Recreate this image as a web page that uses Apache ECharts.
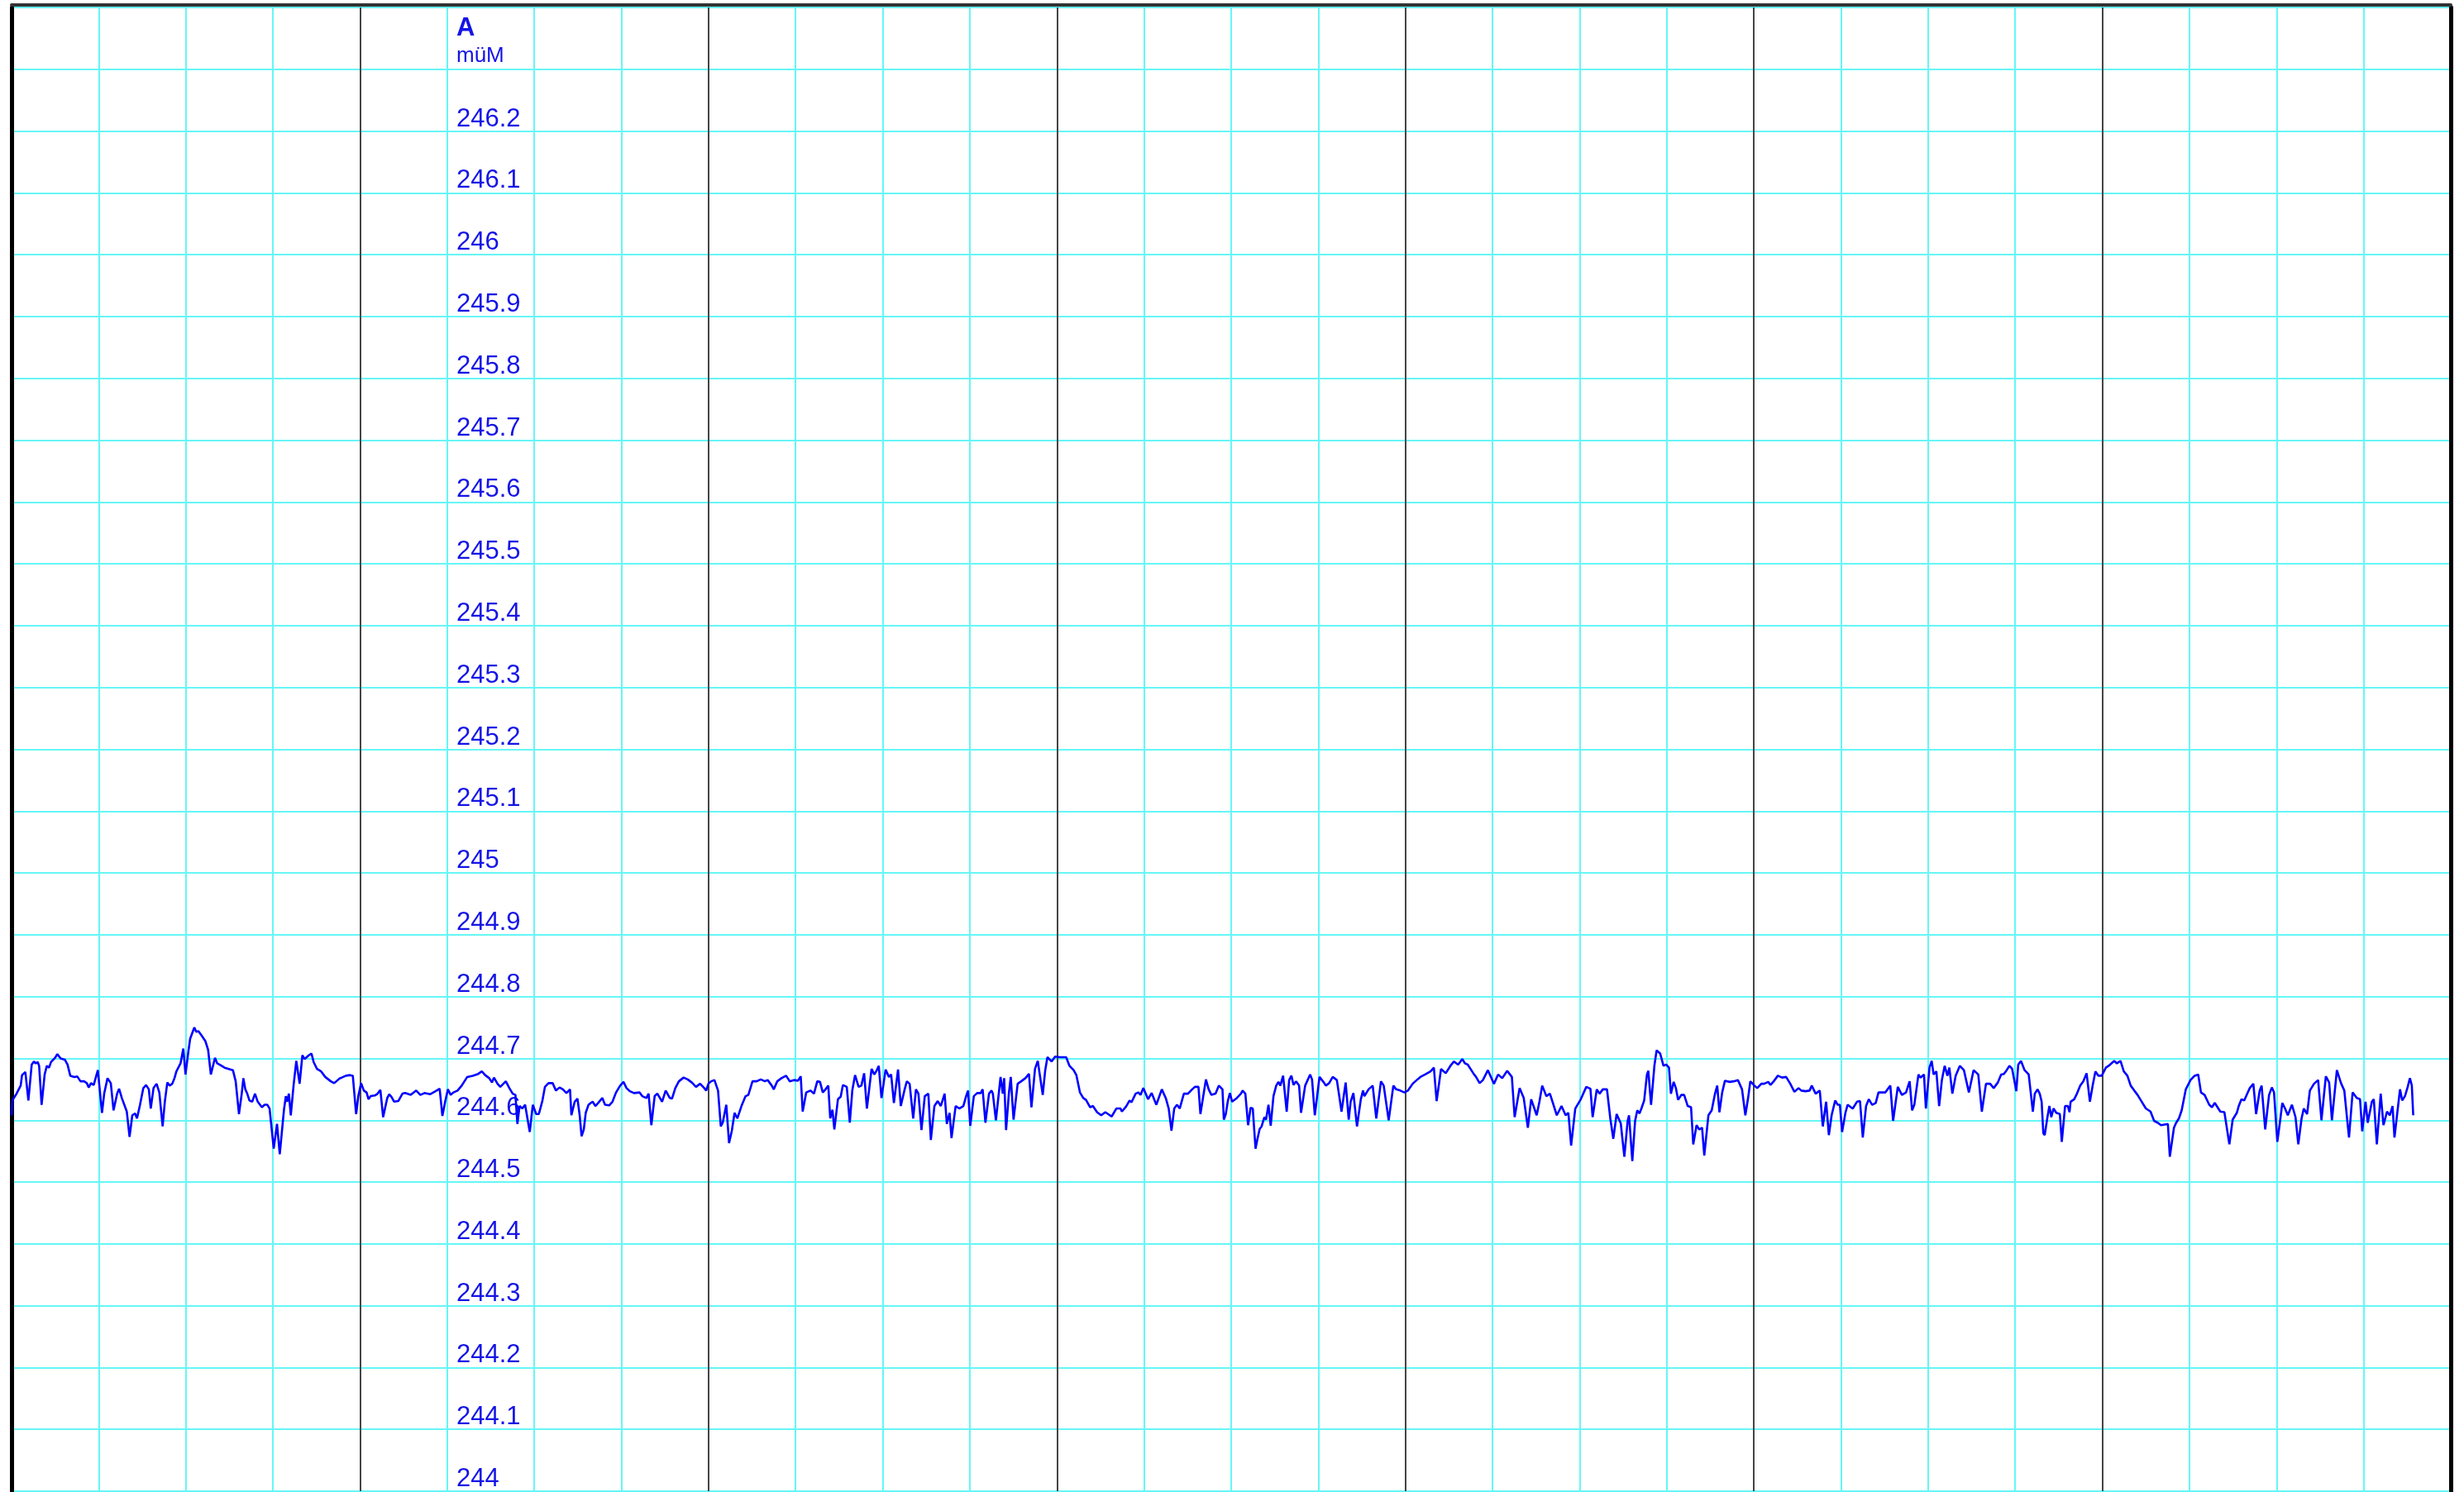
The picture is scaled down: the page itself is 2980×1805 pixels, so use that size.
<!DOCTYPE html>
<html>
<head>
<meta charset="utf-8">
<script src="https://cdn.jsdelivr.net/npm/echarts@6/dist/echarts.min.js"></script>
<style>
html,body{margin:0;padding:0;background:#fff;}
#chart{width:2980px;height:1805px;}
</style>
</head>
<body>
<div id="chart"></div>
<script>
// Water level (müM) readings: [hour, level]
const trace1 = [[0,244.608],[0.057,244.632],[0.342,244.643],[0.437,244.643],[0.627,244.656],[0.721,244.673],[0.949,244.678],[1.158,244.632],[1.386,244.690],[1.538,244.695],[1.671,244.692],[1.804,244.694],[1.898,244.688],[2.069,244.625],[2.278,244.674],[2.430,244.688],[2.582,244.685],[2.715,244.694],[3.000,244.701],[3.151,244.707],[3.379,244.700],[3.664,244.698],[3.854,244.690],[4.044,244.672],[4.329,244.670],[4.518,244.671],[4.746,244.663],[4.993,244.663],[5.183,244.660],[5.316,244.653],[5.468,244.660],[5.657,244.657],[5.752,244.665],[5.942,244.681],[6.227,244.612],[6.379,244.643],[6.607,244.668],[6.834,244.660],[7.024,244.616],[7.271,244.643],[7.404,244.651],[7.594,244.636],[7.936,244.614],[8.125,244.573],[8.315,244.608],[8.505,244.611],[8.638,244.603],[8.847,244.625],[9.075,244.652],[9.265,244.657],[9.454,244.650],[9.587,244.619],[9.777,244.652],[9.986,244.659],[10.176,244.645],[10.404,244.590],[10.555,244.630],[10.726,244.661],[10.878,244.656],[11.068,244.659],[11.220,244.668],[11.353,244.679],[11.638,244.692],[11.828,244.716],[11.980,244.674],[12.169,244.710],[12.302,244.732],[12.587,244.750],[12.720,244.743],[12.872,244.744],[13.118,244.736],[13.346,244.728],[13.536,244.714],[13.726,244.674],[13.821,244.672],[14.011,244.701],[14.163,244.692],[14.390,244.689],[14.675,244.685],[14.960,244.683],[15.245,244.681],[15.435,244.663],[15.662,244.610],[15.852,244.643],[15.966,244.668],[16.099,244.650],[16.232,244.643],[16.384,244.632],[16.574,244.630],[16.764,244.643],[16.953,244.630],[17.238,244.621],[17.428,244.625],[17.618,244.625],[17.770,244.619],[18.054,244.554],[18.282,244.594],[18.472,244.545],[18.757,244.616],[18.890,244.639],[18.985,244.630],[19.099,244.643],[19.232,244.608],[19.421,244.656],[19.611,244.696],[19.839,244.659],[20.029,244.705],[20.181,244.699],[20.466,244.705],[20.655,244.708],[20.807,244.694],[21.035,244.683],[21.320,244.679],[21.605,244.670],[21.984,244.663],[22.212,244.660],[22.364,244.663],[22.611,244.668],[22.744,244.669],[23.029,244.672],[23.313,244.673],[23.503,244.672],[23.731,244.610],[23.883,244.639],[24.073,244.660],[24.262,244.648],[24.452,244.645],[24.585,244.634],[24.737,244.639],[25.022,244.640],[25.212,244.643],[25.402,244.649],[25.592,244.605],[25.876,244.636],[26.009,244.642],[26.161,244.638],[26.351,244.630],[26.636,244.631],[26.921,244.643],[27.110,244.644],[27.490,244.641]];
const trace2 = [[27.585,244.641],[27.870,244.648],[28.155,244.641],[28.440,244.644],[28.819,244.642],[29.199,244.647],[29.484,244.651],[29.673,244.607],[29.863,244.630],[30.053,244.650],[30.243,244.641],[30.433,244.645],[30.717,244.648],[31.002,244.656],[31.382,244.670],[31.762,244.672],[32.141,244.675],[32.388,244.679],[32.616,244.673],[32.901,244.668],[33.090,244.661],[33.223,244.669],[33.470,244.659],[33.660,244.654],[34.040,244.663],[34.286,244.652],[34.514,244.643],[34.704,244.641],[34.837,244.594],[34.989,244.623],[35.179,244.619],[35.369,244.625],[35.463,244.623],[35.691,244.581],[35.900,244.625],[36.128,244.610],[36.318,244.610],[36.564,244.632],[36.735,244.654],[36.982,244.660],[37.267,244.660],[37.495,244.648],[37.742,244.653],[37.969,244.650],[38.216,244.644],[38.463,244.650],[38.558,244.608],[38.786,244.630],[38.976,244.635],[39.128,244.608],[39.260,244.574],[39.412,244.585],[39.545,244.612],[39.735,244.625],[40.020,244.630],[40.210,244.623],[40.400,244.628],[40.685,244.636],[40.874,244.625],[41.159,244.624],[41.387,244.630],[41.634,244.645],[41.729,244.643],[41.918,244.656],[42.146,244.662],[42.355,244.652],[42.583,244.647],[42.868,244.644],[43.247,244.645],[43.437,244.639],[43.722,244.636],[43.874,244.643],[44.064,244.592],[44.292,244.639],[44.481,244.643],[44.804,244.630],[45.051,244.648],[45.336,244.636],[45.488,244.635],[45.715,244.652],[45.962,244.663],[46.285,244.669],[46.570,244.666],[46.854,244.661],[47.139,244.654],[47.424,244.659],[47.709,244.652],[47.842,244.648],[47.993,244.659],[48.183,244.663],[48.411,244.665],[48.658,244.648],[48.848,244.590],[48.981,244.596],[49.227,244.625],[49.417,244.563],[49.607,244.583],[49.797,244.612],[49.987,244.603],[50.272,244.623],[50.556,244.639],[50.746,244.641],[51.031,244.663],[51.316,244.663],[51.601,244.666],[51.885,244.663],[52.075,244.665],[52.360,244.656],[52.493,244.650],[52.740,244.663],[53.025,244.668],[53.347,244.672],[53.594,244.663],[53.879,244.665],[54.164,244.664],[54.354,244.671],[54.487,244.614],[54.733,244.645],[55.018,244.648],[55.265,244.643],[55.493,244.663]];
const trace3 = [[55.682,244.662],[55.872,244.645],[56.062,244.650],[56.252,244.656],[56.385,244.603],[56.537,244.617],[56.669,244.585],[56.916,244.634],[57.106,244.638],[57.258,244.657],[57.524,244.654],[57.733,244.596],[57.904,244.648],[58.094,244.673],[58.340,244.654],[58.530,244.656],[58.720,244.676],[58.910,244.619],[59.232,244.683],[59.422,244.674],[59.574,244.680],[59.726,244.688],[59.916,244.636],[60.201,244.682],[60.429,244.670],[60.580,244.674],[60.770,244.628],[61.055,244.682],[61.245,244.623],[61.511,244.650],[61.663,244.663],[61.853,244.659],[62.100,244.603],[62.289,244.650],[62.460,244.643],[62.669,244.584],[62.897,244.639],[63.144,244.643],[63.315,244.568],[63.561,244.623],[63.789,244.631],[63.998,244.623],[64.264,244.643],[64.416,244.594],[64.605,244.612],[64.738,244.571],[65.023,244.623],[65.270,244.619],[65.554,244.623],[65.744,244.639],[65.877,244.648],[66.029,244.591],[66.276,244.639],[66.504,244.644],[66.750,244.644],[66.883,244.650],[67.073,244.596],[67.320,244.643],[67.491,244.648],[67.586,244.643],[67.795,244.600],[68.117,244.670],[68.269,244.643],[68.364,244.668],[68.497,244.584],[68.687,244.643],[68.820,244.670],[69.010,244.601],[69.294,244.659],[69.541,244.663],[69.826,244.668],[70.073,244.675],[70.244,244.621],[70.490,244.683],[70.680,244.696],[71.022,244.641],[71.193,244.681],[71.344,244.702],[71.629,244.695],[71.876,244.703],[72.199,244.702],[72.635,244.702],[72.863,244.688],[73.148,244.681],[73.338,244.673],[73.585,244.645],[73.813,244.636],[74.002,244.633],[74.287,244.621],[74.477,244.623],[74.762,244.613],[75.047,244.608],[75.331,244.613],[75.521,244.610],[75.768,244.606],[76.091,244.619],[76.376,244.619],[76.471,244.614],[76.755,244.622],[77.002,244.632],[77.135,244.629],[77.420,244.643],[77.610,244.645],[77.762,244.641],[77.951,244.652],[78.274,244.634],[78.521,244.644],[78.844,244.625],[79.223,244.650],[79.508,244.635],[79.698,244.619],[79.888,244.583],[80.078,244.619],[80.268,244.625],[80.457,244.619],[80.742,244.643],[81.027,244.643],[81.312,244.650],[81.502,244.654],[81.748,244.654],[81.881,244.610],[82.261,244.666],[82.451,244.650],[82.641,244.641],[82.925,244.643],[83.153,244.656],[83.400,244.650]];
const trace4 = [[83.495,244.601],[83.628,244.610],[83.780,244.632],[83.913,244.644],[84.064,244.630],[84.349,244.635],[84.672,244.643],[84.786,244.648],[84.976,244.643],[85.166,244.592],[85.337,244.620],[85.488,244.619],[85.678,244.554],[85.811,244.570],[85.963,244.586],[86.096,244.590],[86.286,244.605],[86.400,244.601],[86.571,244.625],[86.723,244.591],[86.913,244.639],[87.102,244.656],[87.254,244.662],[87.387,244.656],[87.577,244.672],[87.824,244.614],[87.995,244.665],[88.146,244.672],[88.298,244.657],[88.469,244.663],[88.678,244.656],[88.811,244.612],[89.096,244.656],[89.437,244.674],[89.570,244.666],[89.760,244.608],[90.083,244.670],[90.387,244.661],[90.519,244.656],[90.747,244.660],[90.994,244.670],[91.279,244.665],[91.601,244.614],[91.886,244.661],[92.095,244.601],[92.228,244.630],[92.418,244.644],[92.665,244.590],[92.930,244.634],[93.082,244.648],[93.177,244.639],[93.462,244.650],[93.747,244.656],[93.994,244.603],[94.316,244.663],[94.506,244.656],[94.848,244.600],[95.171,244.656],[95.361,244.650],[95.645,244.648],[95.930,244.645],[96.177,244.648],[96.500,244.659],[96.784,244.665],[97.031,244.670],[97.354,244.674],[97.734,244.679],[97.961,244.685],[98.151,244.631],[98.455,244.683],[98.778,244.676],[99.100,244.688],[99.347,244.695],[99.632,244.690],[99.917,244.699],[100.107,244.692],[100.296,244.690],[100.676,244.676],[100.866,244.670],[101.113,244.660],[101.340,244.665],[101.682,244.681],[102.100,244.659],[102.384,244.674],[102.669,244.668],[103.011,244.680],[103.334,244.670],[103.524,244.605],[103.865,244.652],[104.150,244.636],[104.435,244.588],[104.663,244.634],[105.042,244.608],[105.232,244.630],[105.422,244.656],[105.707,244.639],[105.954,244.643],[106.428,244.608],[106.751,244.623],[107.036,244.608],[107.226,244.612],[107.415,244.559],[107.700,244.619],[108.080,244.634],[108.460,244.654],[108.744,244.651],[108.896,244.605],[109.181,244.650],[109.371,244.643],[109.599,244.650],[109.884,244.650],[110.112,244.603],[110.320,244.570],[110.548,244.610],[110.833,244.595],[111.080,244.541],[111.308,244.599]];
const trace5 = [[111.402,244.608],[111.630,244.534],[111.820,244.599],[111.972,244.616],[112.124,244.611],[112.257,244.619],[112.446,244.632],[112.636,244.674],[112.731,244.680],[112.921,244.625],[113.149,244.688],[113.301,244.713],[113.548,244.708],[113.775,244.688],[113.965,244.690],[114.155,244.685],[114.288,244.643],[114.478,244.662],[114.630,244.652],[114.781,244.633],[115.009,244.641],[115.199,244.641],[115.446,244.623],[115.674,244.621],[115.826,244.561],[116.053,244.592],[116.243,244.585],[116.433,244.588],[116.585,244.543],[116.870,244.608],[117.098,244.616],[117.325,244.643],[117.477,244.656],[117.629,244.613],[117.819,244.645],[118.009,244.664],[118.332,244.662],[118.616,244.663],[118.901,244.665],[119.186,244.650],[119.414,244.608],[119.604,244.636],[119.756,244.663],[120.041,244.656],[120.230,244.652],[120.515,244.659],[120.705,244.659],[120.990,244.662],[121.142,244.657],[121.369,244.663],[121.654,244.672],[121.939,244.669],[122.224,244.670],[122.509,244.659],[122.793,244.646],[123.078,244.652],[123.268,244.648],[123.553,244.647],[123.837,244.648],[123.989,244.656],[124.255,244.643],[124.540,244.648],[124.749,244.590],[124.977,244.630],[125.166,244.576],[125.356,244.608],[125.603,244.632],[125.774,244.625],[125.926,244.625],[126.078,244.581],[126.306,244.612],[126.458,244.625],[126.685,244.621],[126.818,244.619],[127.103,244.630],[127.312,244.631],[127.502,244.572],[127.730,244.623],[127.919,244.634],[128.147,244.625],[128.394,244.628],[128.584,244.645],[128.869,244.645],[129.058,244.645],[129.400,244.656],[129.590,244.599],[129.913,244.654],[130.198,244.641],[130.482,244.645],[130.729,244.663],[130.900,244.616],[131.052,244.625],[131.337,244.674],[131.470,244.669],[131.716,244.674],[131.849,244.619],[132.096,244.685],[132.248,244.696],[132.381,244.674],[132.571,244.679],[132.761,244.623],[132.950,244.665],[133.140,244.688],[133.330,244.672],[133.463,244.685],[133.672,244.643],[133.900,244.672],[134.184,244.688],[134.469,244.681],[134.811,244.645],[135.134,244.681],[135.456,244.674],[135.703,244.614],[135.988,244.659],[136.273,244.659],[136.519,244.652],[136.804,244.661],[137.032,244.674],[137.222,244.675],[137.412,244.681],[137.602,244.688],[137.791,244.683],[138.076,244.647],[138.209,244.690],[138.399,244.696],[138.646,244.681],[138.931,244.674],[139.216,244.614]];
const trace6 = [[139.348,244.643],[139.538,244.650],[139.689,244.643],[139.822,244.630],[139.936,244.579],[140.031,244.576],[140.221,244.605],[140.354,244.623],[140.487,244.605],[140.639,244.619],[140.829,244.612],[141.076,244.610],[141.209,244.565],[141.436,244.623],[141.626,244.623],[141.740,244.613],[141.816,244.630],[142.063,244.634],[142.253,244.643],[142.481,244.656],[142.689,244.663],[142.917,244.676],[143.145,244.630],[143.335,244.656],[143.525,244.679],[143.734,244.672],[143.961,244.672],[144.246,244.685],[144.436,244.688],[144.816,244.696],[145.006,244.692],[145.252,244.696],[145.480,244.679],[145.727,244.672],[145.955,244.656],[146.201,244.648],[146.429,244.641],[146.714,244.630],[146.999,244.619],[147.321,244.614],[147.568,244.599],[147.815,244.596],[148.043,244.592],[148.517,244.594],[148.650,244.541],[148.935,244.588],[149.087,244.596],[149.277,244.603],[149.467,244.616],[149.751,244.650],[150.074,244.665],[150.359,244.672],[150.606,244.674],[150.796,244.645],[151.043,244.641],[151.365,244.625],[151.555,244.621],[151.745,244.628],[152.125,244.614],[152.409,244.613],[152.751,244.561],[152.979,244.601],[153.264,244.612],[153.397,244.623],[153.587,244.634],[153.776,244.632],[154.023,244.645],[154.156,244.652],[154.403,244.659],[154.593,244.610],[154.839,244.648],[154.972,244.656],[155.219,244.585],[155.485,244.641],[155.675,244.653],[155.827,244.645],[156.055,244.565],[156.245,244.599],[156.397,244.628],[156.586,244.619],[156.776,244.608],[157.061,244.625],[157.308,244.605],[157.498,244.561],[157.725,244.603],[157.877,244.619],[158.105,244.610],[158.295,244.648],[158.580,244.659],[158.865,244.665],[159.092,244.600],[159.396,244.671],[159.624,244.661],[159.814,244.600],[160.155,244.681],[160.440,244.660],[160.668,244.648],[160.858,244.603],[160.991,244.572],[161.238,244.645],[161.522,244.636],[161.750,244.634],[161.902,244.582],[162.130,244.630],[162.282,244.596],[162.567,244.630],[162.699,244.634],[162.908,244.561],[163.174,244.643],[163.364,244.592],[163.610,244.614],[163.800,244.608],[163.990,244.623],[164.123,244.572],[164.370,244.623],[164.503,244.650],[164.655,244.632],[164.845,244.639],[165.034,244.654],[165.186,244.668],[165.319,244.656],[165.414,244.608]];

const yMin = 244, yMax = 246.4, yStep = 0.1;
const xMin = 0, xMax = 168, xMinorStep = 6, xMajorStep = 24;
const axisTitle = 'A';
const axisUnit = 'müM';

const readings = trace1.concat(trace2, trace3, trace4, trace5, trace6);

const BLUE_TEXT = '#1414e6';
const FONT = "'Liberation Sans', Arial, sans-serif";
const CYAN = '#66f6f6';

const chart = echarts.init(document.getElementById('chart'), null, {renderer: 'canvas'});
chart.setOption({
  animation: false,
  backgroundColor: '#ffffff',
  title: {
    text: axisTitle,
    subtext: axisUnit,
    left: 547,
    top: 14,
    itemGap: 5,
    textStyle: {fontSize: 31, fontWeight: 'bold', color: BLUE_TEXT, fontFamily: FONT},
    subtextStyle: {fontSize: 26, color: BLUE_TEXT, fontFamily: FONT}
  },
  grid: {left: 14, top: 9, width: 2950, height: 1798, containLabel: false},
  xAxis: [
    {
      type: 'value', min: xMin, max: xMax, interval: xMinorStep, position: 'bottom',
      axisLine: {show: false}, axisTick: {show: false}, axisLabel: {show: false},
      splitLine: {show: true, lineStyle: {color: CYAN, width: 2}}
    },
    {
      type: 'value', min: xMin, max: xMax, interval: xMajorStep, position: 'top', offset: 3,
      axisLine: {show: true, onZero: false, lineStyle: {color: '#333333', width: 4}},
      axisTick: {show: false}, axisLabel: {show: false},
      splitLine: {show: true, lineStyle: {color: '#444444', width: 2}}
    }
  ],
  yAxis: [
    {
      type: 'value', min: yMin, max: yMax, interval: yStep, position: 'left',
      axisLine: {show: true, onZero: false, lineStyle: {color: '#000000', width: 5}},
      axisTick: {show: false}, axisLabel: {show: false},
      splitLine: {show: true, lineStyle: {color: CYAN, width: 2}}
    },
    {
      type: 'value', min: yMin, max: yMax, interval: yStep, position: 'left', offset: -527,
      axisLine: {show: false, onZero: false}, axisTick: {show: false},
      splitLine: {show: false},
      axisLabel: {
        inside: true, margin: 11, color: BLUE_TEXT, fontSize: 31, fontFamily: FONT,
        verticalAlign: 'bottom', lineHeight: 29, padding: [0, 0, 0, 0],
        showMaxLabel: true, showMinLabel: true,
        formatter: function (v) {
          if (v > 246.25) return '';
          return String(parseFloat(Number(v).toFixed(1)));
        }
      }
    },
    {
      type: 'value', min: yMin, max: yMax, interval: yStep, position: 'right',
      axisLine: {show: true, onZero: false, lineStyle: {color: '#000000', width: 5}},
      axisTick: {show: false}, axisLabel: {show: false}, splitLine: {show: false}
    }
  ],
  series: [{
    type: 'line',
    xAxisIndex: 0,
    yAxisIndex: 0,
    data: readings,
    showSymbol: false,
    symbol: 'none',
    lineStyle: {color: '#0000ff', width: 2.6},
    z: 5
  }]
});
</script>
</body>
</html>
